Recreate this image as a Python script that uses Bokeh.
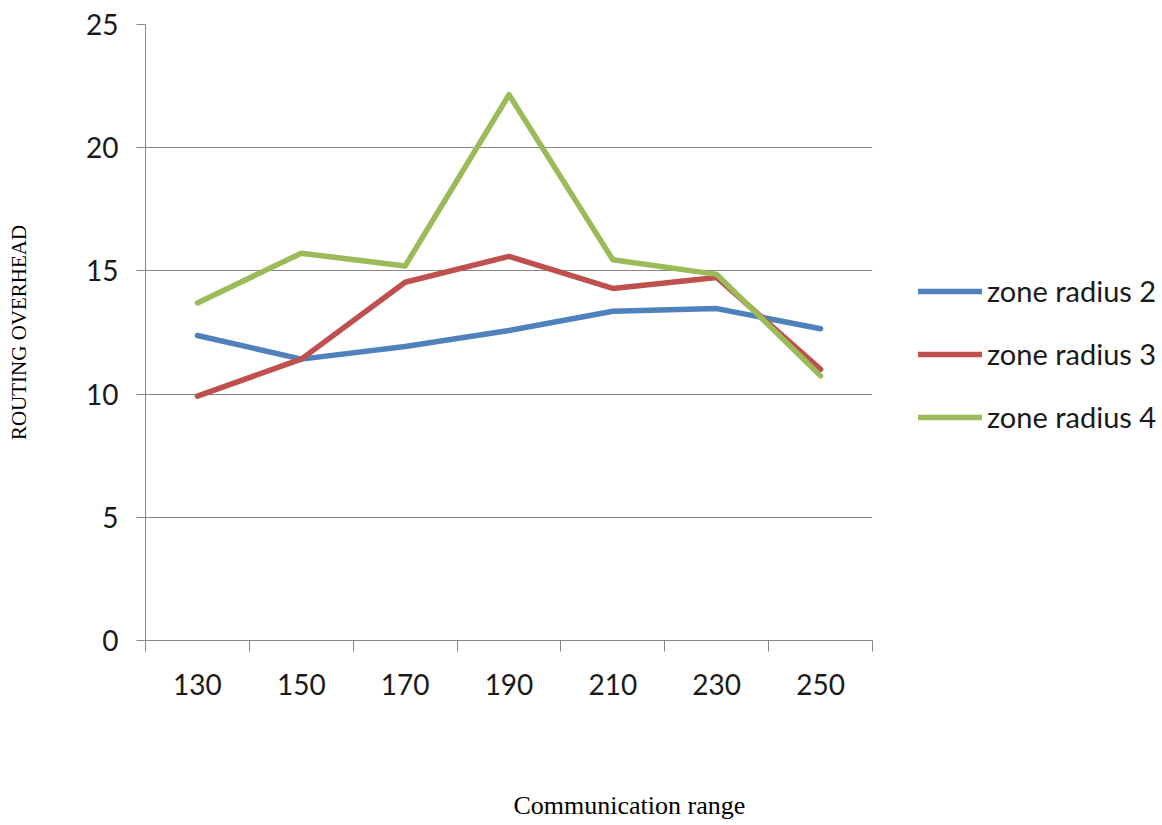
from bokeh.plotting import figure
from bokeh.models import (Range1d, FixedTicker, Legend, LegendItem, Title)
from bokeh.embed import file_html
from bokeh.resources import INLINE

# Communication range categories and routing overhead per zone radius
ranges = [130, 150, 170, 190, 210, 230, 250]
zone_radius_2 = [12.38, 11.42, 11.93, 12.58, 13.36, 13.47, 12.65]
zone_radius_3 = [9.92, 11.42, 14.54, 15.59, 14.29, 14.73, 11.01]
zone_radius_4 = [13.70, 15.72, 15.20, 22.15, 15.45, 14.86, 10.74]

series = [
    ("zone radius 2", zone_radius_2, "#4F81BD"),
    ("zone radius 3", zone_radius_3, "#C0504D"),
    ("zone radius 4", zone_radius_4, "#9BBB59"),
]

y_ticks = [0, 5, 10, 15, 20, 25]
boundary_ticks = [120, 140, 160, 180, 200, 220, 240, 260]

GRID = "#868686"
TICK_FONT = "Lato"

p = figure(frame_width=727, frame_height=616,
           x_range=Range1d(120, 260), y_range=Range1d(0, 25),
           output_backend="svg", toolbar_location=None,
           min_border_left=145, min_border_right=290,
           min_border_top=24, min_border_bottom=185)
p.outline_line_color = None
p.background_fill_color = "white"
p.border_fill_color = "white"

# grid: horizontal only
p.xgrid.grid_line_color = None
p.ygrid.grid_line_color = GRID
p.ygrid.grid_line_width = 1
p.ygrid.ticker = FixedTicker(ticks=y_ticks)

# x axis: labels at category centres, tick marks at category boundaries
xa = p.xaxis[0]
xa.ticker = FixedTicker(ticks=ranges, minor_ticks=boundary_ticks)
xa.axis_line_color = GRID
xa.major_tick_line_color = None
xa.major_tick_out = 0
xa.major_tick_in = 0
xa.minor_tick_line_color = GRID
xa.minor_tick_out = 11
xa.minor_tick_in = 0
xa.major_label_standoff = 22
xa.major_label_text_font = TICK_FONT
xa.major_label_text_font_size = "28px"
xa.major_label_text_color = "#1a1a1a"

ya = p.yaxis[0]
ya.ticker = FixedTicker(ticks=y_ticks)
ya.axis_line_color = GRID
ya.major_tick_line_color = GRID
ya.major_tick_out = 9
ya.major_tick_in = 0
ya.minor_tick_line_color = None
ya.major_label_standoff = 18
ya.major_label_text_font = TICK_FONT
ya.major_label_text_font_size = "28px"
ya.major_label_text_color = "#1a1a1a"
ya.axis_label = "ROUTING OVERHEAD"
ya.axis_label_text_font = "Liberation Serif"
ya.axis_label_text_font_style = "normal"
ya.axis_label_text_font_size = "21px"
ya.axis_label_text_color = "black"
ya.axis_label_standoff = 52

items = []
for name, vals, color in series:
    r = p.line(ranges, vals, line_color=color, line_width=5.5,
               line_join="round", line_cap="round")
    items.append(LegendItem(label=name, renderers=[r]))

legend = Legend(items=items, location=(46, 206),
                glyph_width=64, glyph_height=34, label_height=34,
                label_standoff=5, spacing=28, padding=0, margin=0,
                border_line_color=None, background_fill_alpha=0,
                label_text_font=TICK_FONT, label_text_font_size="29px",
                label_text_color="#1a1a1a")
p.add_layout(legend, "right")

# x-axis caption, shifted right of the frame centre and pushed down
p.add_layout(Title(text="\n\n\nCommunication range", align="left", offset=368,
                   vertical_align="bottom", standoff=2,
                   text_line_height=1.05,
                   text_font="Liberation Serif", text_font_style="normal",
                   text_font_size="26px", text_color="black"), "below")

open("out.html", "w").write(file_html(p, INLINE))
